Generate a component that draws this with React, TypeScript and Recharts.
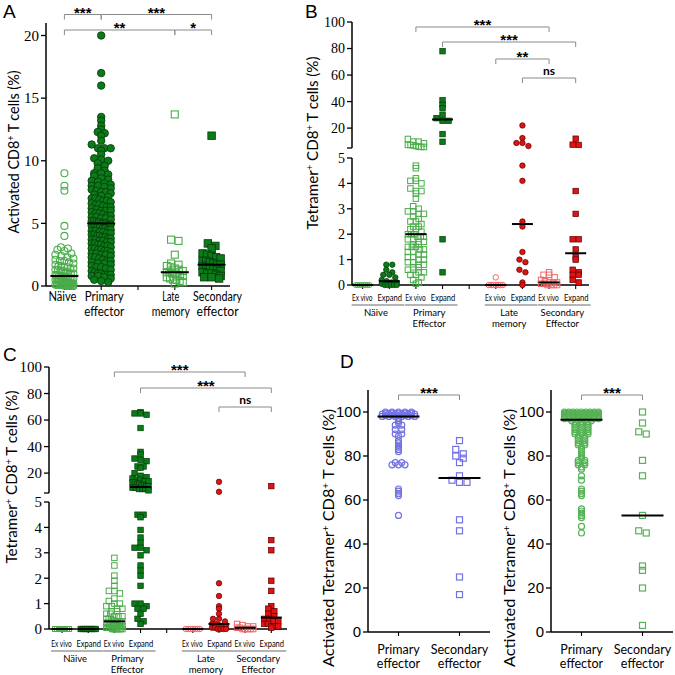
import React from 'react';
import { ScatterChart, Scatter, XAxis, YAxis } from 'recharts';

// ---- values ----
// A: activated CD8+ T cells (%)
const aNaive = [9, 8, 7.6, 4.8, 4, 3.1, 3, 2.9, 2.8, 2.6, 2.5, 2.4, 2.3, 2.2, 2.1, 2, 2, 1.9, 1.8, 1.7, 1.6, 1.6, 1.5, 1.5, 1.4, 1.4, 1.3, 1.3, 1.2, 1.2, 1.1, 1.1, 1, 1, 0.9, 0.9, 0.8, 0.8, 0.8, 0.7, 0.7, 0.7, 0.6, 0.6, 0.6, 0.5, 0.5, 0.5, 0.5, 0.4, 0.4, 0.4, 0.4, 0.3, 0.3, 0.3, 0.3, 0.2, 0.2, 0.2, 0.2, 0.1, 0.1, 0.1, 0.1, 0.1, 0.05, 0.05, 0.05, 0, 0, 0, 0, 0, 0];
const aPrimary = [20, 17, 16, 13.5, 13.2, 12.8, 12.5, 12.3, 12.2, 12, 11.6, 11.3, 11, 11, 11, 10.8, 10.5, 10.2, 10.1, 10, 9.8, 9.6, 9.4, 9.2, 9, 9, 8.9, 8.8, 8.6, 8.5, 8.4, 8.3, 8.2, 8.1, 8, 8, 7.9, 7.8, 7.7, 7.6, 7.5, 7.5, 7.4, 7.3, 7.2, 7.1, 7, 7, 6.9, 6.8, 6.8, 6.7, 6.6, 6.5, 6.5, 6.4, 6.3, 6.3, 6.2, 6.1, 6, 6, 6, 5.9, 5.8, 5.8, 5.7, 5.6, 5.6, 5.5, 5.5, 5.4, 5.4, 5.3, 5.2, 5.2, 5.1, 5.1, 5, 5, 5, 4.9, 4.9, 4.8, 4.8, 4.7, 4.7, 4.6, 4.6, 4.5, 4.5, 4.4, 4.4, 4.3, 4.3, 4.2, 4.2, 4.1, 4.1, 4, 4, 3.9, 3.9, 3.8, 3.8, 3.7, 3.7, 3.6, 3.6, 3.5, 3.5, 3.4, 3.4, 3.3, 3.3, 3.2, 3.2, 3.1, 3, 3, 2.9, 2.9, 2.8, 2.8, 2.7, 2.6, 2.6, 2.5, 2.5, 2.4, 2.3, 2.3, 2.2, 2.1, 2, 2, 1.9, 1.8, 1.8, 1.7, 1.6, 1.5, 1.5, 1.4, 1.3, 1.2, 1.1, 1, 1, 0.9, 0.9, 0.9, 0.8, 0.8, 0.7, 0.6, 0.5, 0.4, 0.3];
const aLate = [13.7, 3.7, 3.6, 2.5, 1.8, 1.7, 1.6, 1.5, 1.4, 1.3, 1.2, 1.1, 1.1, 1, 1, 0.9, 0.8, 0.8, 0.7, 0.6, 0.5, 0.5, 0.4, 0.3, 0.2];
const aSecondary = [12, 3.4, 3.2, 3, 2.6, 2.5, 2.4, 2.3, 2.2, 2, 2, 1.9, 1.8, 1.7, 1.7, 1.6, 1.5, 1.5, 1.4, 1.3, 1.2, 1.1, 1, 1, 0.9, 0.8, 0.7, 0.7, 0.6];

// B: tetramer+ CD8+ T cells (%)
const bNaiveEx = [0, 0, 0, 0, 0, 0, 0, 0];
const bNaiveExp = [0.8, 0.8, 0.6, 0.5, 0.4, 0.4, 0.3, 0.2, 0.15, 0.1, 0.1, 0.05, 0, 0, 0, 0, 0];
const bPrimaryEx = [11.8, 9.8, 9.8, 8.5, 7.3, 7.3, 7, 6.5, 6, 5.8, 5.8, 4.7, 4.6, 4.2, 4.1, 4.1, 4, 3.8, 3.7, 3.7, 3.6, 3.4, 3.1, 3, 2.9, 2.9, 2.8, 2.8, 2.7, 2.6, 2.5, 2.5, 2.4, 2.3, 2.3, 2.2, 2.2, 2.1, 2, 2, 2, 1.9, 1.9, 1.9, 1.8, 1.8, 1.7, 1.7, 1.6, 1.6, 1.5, 1.5, 1.5, 1.4, 1.4, 1.3, 1.3, 1.2, 1.2, 1.1, 1.1, 1, 1, 0.9, 0.9, 0.8, 0.8, 0.7, 0.7, 0.6, 0.6, 0.5, 0.5, 0.4, 0.4, 0.3, 0.2, 0.1, 0.05];
const bPrimaryExp = [78, 41, 37.5, 35, 30, 27.5, 25.5, 25.5, 15.5, 9.7, 1.8, 0.5];
const bLateEx = [0.3, 0, 0, 0, 0, 0, 0, 0];
const bLateExp = [22, 12.5, 8.8, 8.8, 6.5, 4.7, 4.1, 2.5, 2.3, 1.3, 1, 0.9, 0.6, 0.5, 0.1, 0];
const bSecEx = [0.5, 0.4, 0.4, 0.3, 0.2, 0.15, 0.1, 0.1, 0.1, 0.05, 0.05, 0, 0, 0, 0];
const bSecExp = [12, 7.5, 7.3, 3.7, 2.8, 1.8, 1.8, 1.4, 1.1, 1, 0.6, 0.5, 0.4, 0.4, 0.2, 0.1];

// C: tetramer+ CD8+ T cells (%), second epitope
const cNaiveEx = [0, 0, 0, 0, 0, 0, 0, 0];
const cNaiveExp = [0, 0, 0, 0, 0, 0, 0, 0];
const cPrimaryEx = [2.8, 2.5, 2.1, 1.9, 1.7, 1.5, 1.5, 1.4, 1.2, 1.1, 1, 1, 0.9, 0.9, 0.8, 0.8, 0.7, 0.7, 0.6, 0.6, 0.5, 0.5, 0.5, 0.4, 0.4, 0.4, 0.35, 0.3, 0.3, 0.3, 0.3, 0.25, 0.2, 0.2, 0.2, 0.2, 0.2, 0.15, 0.15, 0.1, 0.1, 0.1, 0.1, 0.1, 0.05, 0.05, 0.05, 0.05, 0, 0, 0, 0, 0, 0, 0, 0];
const cPrimaryExp = [66, 65, 65, 64, 54, 36, 34, 31, 30, 29, 25, 25, 24, 20, 18, 17, 16, 15, 15, 14, 14, 13, 13, 12, 12, 11, 11, 10, 10, 9, 9, 8, 8, 8, 7, 4.5, 4.5, 4.4, 3.9, 3.6, 3.4, 3.2, 3.2, 3.1, 2.9, 2.5, 2.3, 2.1, 1.7, 1, 1, 0.9, 0.8, 0.8, 0.6, 0.4, 0.3, 0.2];
const cLateEx = [0, 0, 0, 0, 0, 0, 0];
const cLateExp = [13.4, 5.9, 1.8, 1.3, 0.9, 0.8, 0.6, 0.4, 0.4, 0.3, 0.2, 0.2, 0.15, 0.1, 0.1, 0.05, 0.05, 0, 0, 0, 0];
const cSecEx = [0.2, 0.15, 0.1, 0.1, 0.05, 0.05, 0, 0, 0, 0, 0];
const cSecExp = [10.2, 3.5, 3.1, 1.9, 1.5, 0.9, 0.8, 0.7, 0.6, 0.5, 0.4, 0.4, 0.3, 0.3, 0.2, 0.2, 0.1, 0.1, 0.1, 0.05];

// D: activated tetramer+ CD8+ T cells (%)
const dBluePrimary = [100, 100, 100, 100, 100, 99.5, 99.5, 99.5, 99.5, 99.5, 99, 99, 99, 99, 99, 99, 98.5, 98.5, 98.5, 98.5, 98.5, 98, 98, 98, 98, 98, 98, 97, 96, 95, 94, 94, 92, 92, 90, 90, 89, 87, 86, 85, 84, 83, 82, 77, 77, 76, 76, 76, 65, 64, 63, 62, 53];
const dBlueSecondary = [87, 83, 81, 80, 79, 77, 71, 69, 68, 68, 51, 46, 25, 17];
const dGreenPrimary = [100, 100, 100, 100, 100, 100, 100, 100, 100, 99.5, 99.5, 99.5, 99.5, 99.5, 99.5, 99.5, 99.5, 99, 99, 99, 99, 99, 99, 99, 99, 99, 98.5, 98.5, 98.5, 98.5, 98.5, 98.5, 98.5, 98.5, 98, 98, 98, 98, 98, 98, 98, 98, 98, 97.5, 97.5, 97.5, 97.5, 97.5, 97.5, 97.5, 97.5, 97, 97, 97, 97, 97, 97, 97, 97, 96, 96, 96, 96, 95, 95, 95, 94, 94, 94, 93, 93, 93, 92, 92, 92, 91, 91, 91, 90, 90, 90, 89, 89, 88, 88, 87, 87, 86, 86, 85, 85, 84, 83, 82, 81, 80, 79, 78, 78, 77, 77, 76, 76, 75, 74, 71, 69, 65, 64, 63, 62, 56, 55, 54, 53, 52, 48, 45];
const dGreenSecondary = [100, 95, 91, 90, 78, 71, 53, 46, 45, 30, 28, 20, 3];

const SANS = 'Lato, "Open Sans", sans-serif';
const SERIF = '"Liberation Serif", "Times New Roman", serif';
const ARIAL = '"Liberation Sans", Arial, sans-serif';

const DK = '#0b7a18';
const DKS = '#053a09';
const LG = '#4aad4a';
const RD = '#e01212';
const RDS = '#5a0000';
const LR = '#f06868';
const BL = '#7272e2';
const DG = '#55b255';

type Kind = 'circle' | 'square';
interface Group { values: number[]; pos: number; kind: Kind; size: number; fill: string; stroke: string; sw: number; half: number; row: number; step: number }
interface Seg { left: number; top: number; w: number; h: number; x: [number, number]; y: [number, number]; yTicks: number[]; xTicks?: number[]; font: string; fontSize: number; hideTick?: number }

const median = (vs: number[]) => {
  const s = [...vs].sort((a, b) => a - b);
  const n = s.length;
  return n % 2 ? s[(n - 1) / 2] : (s[n / 2 - 1] + s[n / 2]) / 2;
};

// simple binned beeswarm: points in the same pixel row are spread sideways
function swarm(values: number[], g: Group, pxX: number, pxY: number) {
  const rows = new Map<number, number[]>();
  values.forEach((v) => {
    const r = Math.round((v * pxY) / g.row);
    if (!rows.has(r)) rows.set(r, []);
    rows.get(r)!.push(v);
  });
  const out: { x: number; y: number }[] = [];
  rows.forEach((vs) => {
    const n = vs.length;
    const step = n > 1 ? Math.min(g.step, (2 * g.half) / (n - 1)) : 0;
    vs.forEach((v, i) => out.push({ x: g.pos + ((i - (n - 1) / 2) * step) / pxX, y: v }));
  });
  return out;
}

const marker = (g: Group) => (p: any) => {
  const { cx, cy } = p;
  if (typeof cx !== 'number' || typeof cy !== 'number') return <g />;
  const r = g.size / 2;
  return g.kind === 'circle' ? (
    <circle cx={cx} cy={cy} r={r} fill={g.fill} stroke={g.stroke} strokeWidth={g.sw} />
  ) : (
    <rect x={cx - r} y={cy - r} width={g.size} height={g.size} fill={g.fill} stroke={g.stroke} strokeWidth={g.sw} />
  );
};

// median bar, drawn as a scatter mark so it sits on top of the points
const medianBar = (halfPx: number) => (p: any) => {
  const { cx, cy } = p;
  if (typeof cx !== 'number' || typeof cy !== 'number') return <g />;
  return <line x1={cx - halfPx} x2={cx + halfPx} y1={cy} y2={cy} stroke="#000" strokeWidth={2} />;
};

function Plot({ seg, groups, medPx }: { seg: Seg; groups: Group[]; medPx: number }) {
  const yW = 44, padT = 8, padR = 12, padB = 8, xH = 10;
  const pxX = seg.w / (seg.x[1] - seg.x[0]);
  const pxY = seg.h / (seg.y[1] - seg.y[0]);
  const showX = !!seg.xTicks;
  const keep = (v: number) => v <= seg.y[1] && (seg.y[0] === 0 ? v >= 0 : v > seg.y[0]);
  const meds = groups.map((g) => ({ x: g.pos, y: median(g.values) })).filter((m) => keep(m.y));
  return (
    <div style={{ position: 'absolute', left: seg.left - yW, top: seg.top - padT }}>
      <ScatterChart
        width={yW + seg.w + padR}
        height={padT + seg.h + (showX ? xH : padB)}
        margin={{ top: padT, right: padR, bottom: showX ? 0 : padB, left: 0 }}
      >
        <XAxis
          type="number"
          dataKey="x"
          domain={seg.x}
          ticks={seg.xTicks}
          hide={!showX}
          height={xH}
          tickSize={4}
          tickFormatter={() => ''}
          axisLine={{ stroke: '#000', strokeWidth: 1.3 }}
          tickLine={{ stroke: '#000', strokeWidth: 1.1 }}
        />
        <YAxis
          type="number"
          dataKey="y"
          domain={seg.y}
          ticks={seg.yTicks}
          interval={0}
          width={yW}
          tickSize={5}
          axisLine={{ stroke: '#000', strokeWidth: 1.5 }}
          tickLine={{ stroke: '#000', strokeWidth: 1.3 }}
          tick={{ fill: '#000', fontFamily: seg.font, fontSize: seg.fontSize }}
          tickFormatter={(v: number) => (v === seg.hideTick ? '' : String(v))}
        />
        {groups.map((g, i) => (
          <Scatter key={i} data={swarm(g.values.filter(keep), g, pxX, pxY)} shape={marker(g)} isAnimationActive={false} />
        ))}
        <Scatter data={meds} shape={medianBar(medPx)} isAnimationActive={false} />
      </ScatterChart>
    </div>
  );
}

const segA: Seg = { left: 46, top: 23, w: 184, h: 263, x: [-0.5, 4.5], y: [0, 21], yTicks: [0, 5, 10, 15, 20], xTicks: [0, 1, 2, 3, 4], font: SERIF, fontSize: 15 };
const segBTop: Seg = { left: 352, top: 22, w: 237, h: 126, x: [-0.4, 8.5], y: [5, 100], yTicks: [5, 20, 40, 60, 80, 100], font: SERIF, fontSize: 14, hideTick: 5 };
const segBBot: Seg = { left: 352, top: 158, w: 237, h: 127, x: [-0.4, 8.5], y: [0, 5], yTicks: [0, 1, 2, 3, 4, 5], xTicks: [0, 1, 2, 3, 4, 5, 6, 7, 8], font: SERIF, fontSize: 14 };
const segCTop: Seg = { left: 49, top: 367, w: 238, h: 126, x: [-0.5, 8.6], y: [5, 100], yTicks: [5, 20, 40, 60, 80, 100], font: SERIF, fontSize: 15, hideTick: 5 };
const segCBot: Seg = { left: 49, top: 502, w: 238, h: 127, x: [-0.5, 8.6], y: [0, 5], yTicks: [0, 1, 2, 3, 4, 5], xTicks: [0, 1, 2, 3, 4, 5, 6, 7, 8], font: SERIF, fontSize: 15 };
const segDL: Seg = { left: 368, top: 390, w: 122, h: 242, x: [-0.5, 1.5], y: [0, 110], yTicks: [0, 20, 40, 60, 80, 100], xTicks: [0, 1], font: ARIAL, fontSize: 15 };
const segDR: Seg = { ...segDL, left: 551 };

const gA: Group[] = [
  { values: aNaive, pos: 0, kind: 'circle', size: 7, fill: 'none', stroke: LG, sw: 1.1, half: 9, row: 5, step: 7 },
  { values: aPrimary, pos: 1, kind: 'circle', size: 7.5, fill: DK, stroke: DKS, sw: 0.8, half: 9.5, row: 4.5, step: 7 },
  { values: aLate, pos: 3, kind: 'square', size: 7, fill: 'none', stroke: LG, sw: 1.1, half: 8, row: 6, step: 7.5 },
  { values: aSecondary, pos: 4, kind: 'square', size: 7.5, fill: DK, stroke: DKS, sw: 0.8, half: 9, row: 6, step: 7.5 },
];

const tetGroups = (v: number[][], naiveExKind: Kind, naiveExpKind: Kind): Group[] => [
  { values: v[0], pos: 0, kind: naiveExKind, size: 5, fill: 'none', stroke: LG, sw: 1, half: 7, row: 5, step: 5 },
  { values: v[1], pos: 1, kind: naiveExpKind, size: 5.5, fill: DK, stroke: DKS, sw: 0.7, half: 7.5, row: 5, step: 6 },
  { values: v[2], pos: 2, kind: 'square', size: 5.5, fill: 'none', stroke: LG, sw: 1, half: 8, row: 4.5, step: 5.5 },
  { values: v[3], pos: 3, kind: 'square', size: 5.5, fill: DK, stroke: DKS, sw: 0.7, half: 8, row: 5, step: 6 },
  { values: v[4], pos: 5, kind: 'circle', size: 5.5, fill: 'none', stroke: LR, sw: 1, half: 7, row: 5, step: 5 },
  { values: v[5], pos: 6, kind: 'circle', size: 5.5, fill: RD, stroke: RDS, sw: 0.7, half: 7, row: 5, step: 6 },
  { values: v[6], pos: 7, kind: 'square', size: 5.5, fill: 'none', stroke: LR, sw: 1, half: 8, row: 5, step: 5.5 },
  { values: v[7], pos: 8, kind: 'square', size: 5.5, fill: RD, stroke: RDS, sw: 0.7, half: 7, row: 5, step: 6 },
];

const gB = tetGroups([bNaiveEx, bNaiveExp, bPrimaryEx, bPrimaryExp, bLateEx, bLateExp, bSecEx, bSecExp], 'circle', 'circle');
const gC = tetGroups([cNaiveEx, cNaiveExp, cPrimaryEx, cPrimaryExp, cLateEx, cLateExp, cSecEx, cSecExp], 'square', 'square');

const gDL: Group[] = [
  { values: dBluePrimary, pos: 0, kind: 'circle', size: 6, fill: 'none', stroke: BL, sw: 1.2, half: 17, row: 1.1, step: 6.5 },
  { values: dBlueSecondary, pos: 1, kind: 'square', size: 6, fill: 'none', stroke: BL, sw: 1.2, half: 8, row: 6, step: 7.5 },
];
const gDR: Group[] = [
  { values: dGreenPrimary, pos: 0, kind: 'circle', size: 6, fill: 'none', stroke: DG, sw: 1.2, half: 17, row: 1.1, step: 6.5 },
  { values: dGreenSecondary, pos: 1, kind: 'square', size: 6, fill: 'none', stroke: DG, sw: 1.2, half: 8, row: 6, step: 7.5 },
];

const sx = (seg: Seg, p: number) => seg.left + ((p - seg.x[0]) / (seg.x[1] - seg.x[0])) * seg.w;

function Bracket({ x1, x2, y, label }: { x1: number; x2: number; y: number; label: string }) {
  const ns = label === 'ns';
  return (
    <g>
      <path d={`M${x1},${y + 5}V${y}H${x2}V${y + 5}`} fill="none" stroke="#8a8a8a" strokeWidth={1} />
      <text x={(x1 + x2) / 2} y={ns ? y - 3 : y + 3} textAnchor="middle" fontFamily={ns ? SANS : ARIAL} fontWeight="bold" fontSize={ns ? 12 : 15}>
        {label}
      </text>
    </g>
  );
}

function VTitle({ x, y, len, pre, mid }: { x: number; y: number; len: number; pre: string; mid?: string }) {
  return (
    <text transform={`translate(${x},${y}) rotate(-90)`} textAnchor="middle" fontFamily={SANS} fontSize={14.5} textLength={len} lengthAdjust="spacingAndGlyphs">
      {pre}
      <tspan dy={-5} fontSize={9}>+</tspan>
      {mid !== undefined && <tspan dy={5}>{mid}</tspan>}
      {mid !== undefined && <tspan dy={-5} fontSize={9}>+</tspan>}
      <tspan dy={5}> T cells (%)</tspan>
    </text>
  );
}

function TetLabels({ seg, y }: { seg: Seg; y: number }) {
  const pairs: [number, number, string[]][] = [
    [0, 1, ['Näive']],
    [2, 3, ['Primary', 'Effector']],
    [5, 6, ['Late', 'memory']],
    [7, 8, ['Secondary', 'Effector']],
  ];
  return (
    <g fontFamily={SANS}>
      {pairs.map(([a, b, names]) => (
        <g key={a}>
          <text x={sx(seg, a) - 0.5} y={y} textAnchor="middle" fontSize={9.5} textLength={20.5} lengthAdjust="spacingAndGlyphs">Ex vivo</text>
          <text x={sx(seg, b) + 0.5} y={y} textAnchor="middle" fontSize={9.5} textLength={24.5} lengthAdjust="spacingAndGlyphs">Expand</text>
          <line x1={sx(seg, a) - 11} x2={sx(seg, b) + 15} y1={y + 4} y2={y + 4} stroke="#444" strokeWidth={0.8} />
          {names.map((n, i) => (
            <text key={n} x={(sx(seg, a) + sx(seg, b)) / 2} y={y + 15 + i * 10.5} textAnchor="middle" fontSize={9.5}>{n}</text>
          ))}
        </g>
      ))}
    </g>
  );
}

export default function App() {
  // category position, nudge, lines, text widths
  const aLabels: [number, number, string[], number[]][] = [
    [0, -2, ['Näive'], [28]],
    [1, 3, ['Primary', 'effector'], [39, 40]],
    [3, -4, ['Late', 'memory'], [17, 38]],
    [4, 6, ['Secondary', 'effector'], [49, 42]],
  ];
  const dLabels: [number, string[]][] = [
    [0, ['Primary', 'effector']],
    [1, ['Secondary', 'effector']],
  ];
  return (
    <div style={{ position: 'absolute', left: 0, top: 0, width: 675, height: 675, overflow: 'hidden', background: '#fff' }}>
      <Plot seg={segA} groups={gA} medPx={14} />
      <Plot seg={segBTop} groups={gB} medPx={10.5} />
      <Plot seg={segBBot} groups={gB} medPx={10.5} />
      <Plot seg={segCTop} groups={gC} medPx={10.5} />
      <Plot seg={segCBot} groups={gC} medPx={10.5} />
      <Plot seg={segDL} groups={gDL} medPx={21} />
      <Plot seg={segDR} groups={gDR} medPx={21} />
      <svg width={675} height={675} style={{ position: 'absolute', left: 0, top: 0, pointerEvents: 'none' }}>
        <g fontFamily={ARIAL} fontSize={19}>
          <text x={3} y={18}>A</text>
          <text x={305} y={18}>B</text>
          <text x={3} y={361}>C</text>
          <text x={340} y={368}>D</text>
        </g>

        <VTitle x={19} y={152} len={163} pre="Activated CD8" />
        <VTitle x={318} y={143} len={173} pre="Tetramer" mid=" CD8" />
        <VTitle x={17} y={477} len={173} pre="Tetramer" mid=" CD8" />
        <VTitle x={334} y={538} len={258} pre="Activated Tetramer" mid=" CD8" />
        <VTitle x={515} y={538} len={258} pre="Activated Tetramer" mid=" CD8" />

        {aLabels.map(([p, dx, lines, lens]) =>
          lines.map((t, i) => (
            <text key={t + p} x={sx(segA, p) + dx} y={301 + i * 14.5} textAnchor="middle" fontFamily={SANS} fontSize={12.5} textLength={lens[i]} lengthAdjust="spacingAndGlyphs">{t}</text>
          ))
        )}
        <TetLabels seg={segBBot} y={301} />
        <TetLabels seg={segCBot} y={647} />
        {[segDL, segDR].map((s, k) =>
          dLabels.map(([p, lines]) =>
            lines.map((t, i) => (
              <text key={`${k}${p}${i}`} x={sx(s, p)} y={654 + i * 14} textAnchor="middle" fontFamily={SANS} fontSize={12.5}>{t}</text>
            ))
          )
        )}

        <Bracket x1={sx(segA, 0)} x2={sx(segA, 1)} y={14.5} label="***" />
        <Bracket x1={sx(segA, 1)} x2={sx(segA, 4)} y={14.5} label="***" />
        <Bracket x1={sx(segA, 0)} x2={sx(segA, 3)} y={30} label="**" />
        <Bracket x1={sx(segA, 3)} x2={sx(segA, 4)} y={30} label="*" />

        <Bracket x1={sx(segBBot, 2)} x2={sx(segBBot, 7)} y={27} label="***" />
        <Bracket x1={sx(segBBot, 3)} x2={sx(segBBot, 8)} y={42} label="***" />
        <Bracket x1={sx(segBBot, 5)} x2={sx(segBBot, 7)} y={59} label="**" />
        <Bracket x1={sx(segBBot, 6)} x2={sx(segBBot, 8)} y={78} label="ns" />

        <Bracket x1={sx(segCBot, 2)} x2={sx(segCBot, 7)} y={372} label="***" />
        <Bracket x1={sx(segCBot, 3)} x2={sx(segCBot, 8)} y={388} label="***" />
        <Bracket x1={sx(segCBot, 6)} x2={sx(segCBot, 8)} y={407} label="ns" />

        <Bracket x1={sx(segDL, 0)} x2={sx(segDL, 1)} y={395} label="***" />
        <Bracket x1={sx(segDR, 0)} x2={sx(segDR, 1)} y={395} label="***" />
      </svg>
    </div>
  );
}
